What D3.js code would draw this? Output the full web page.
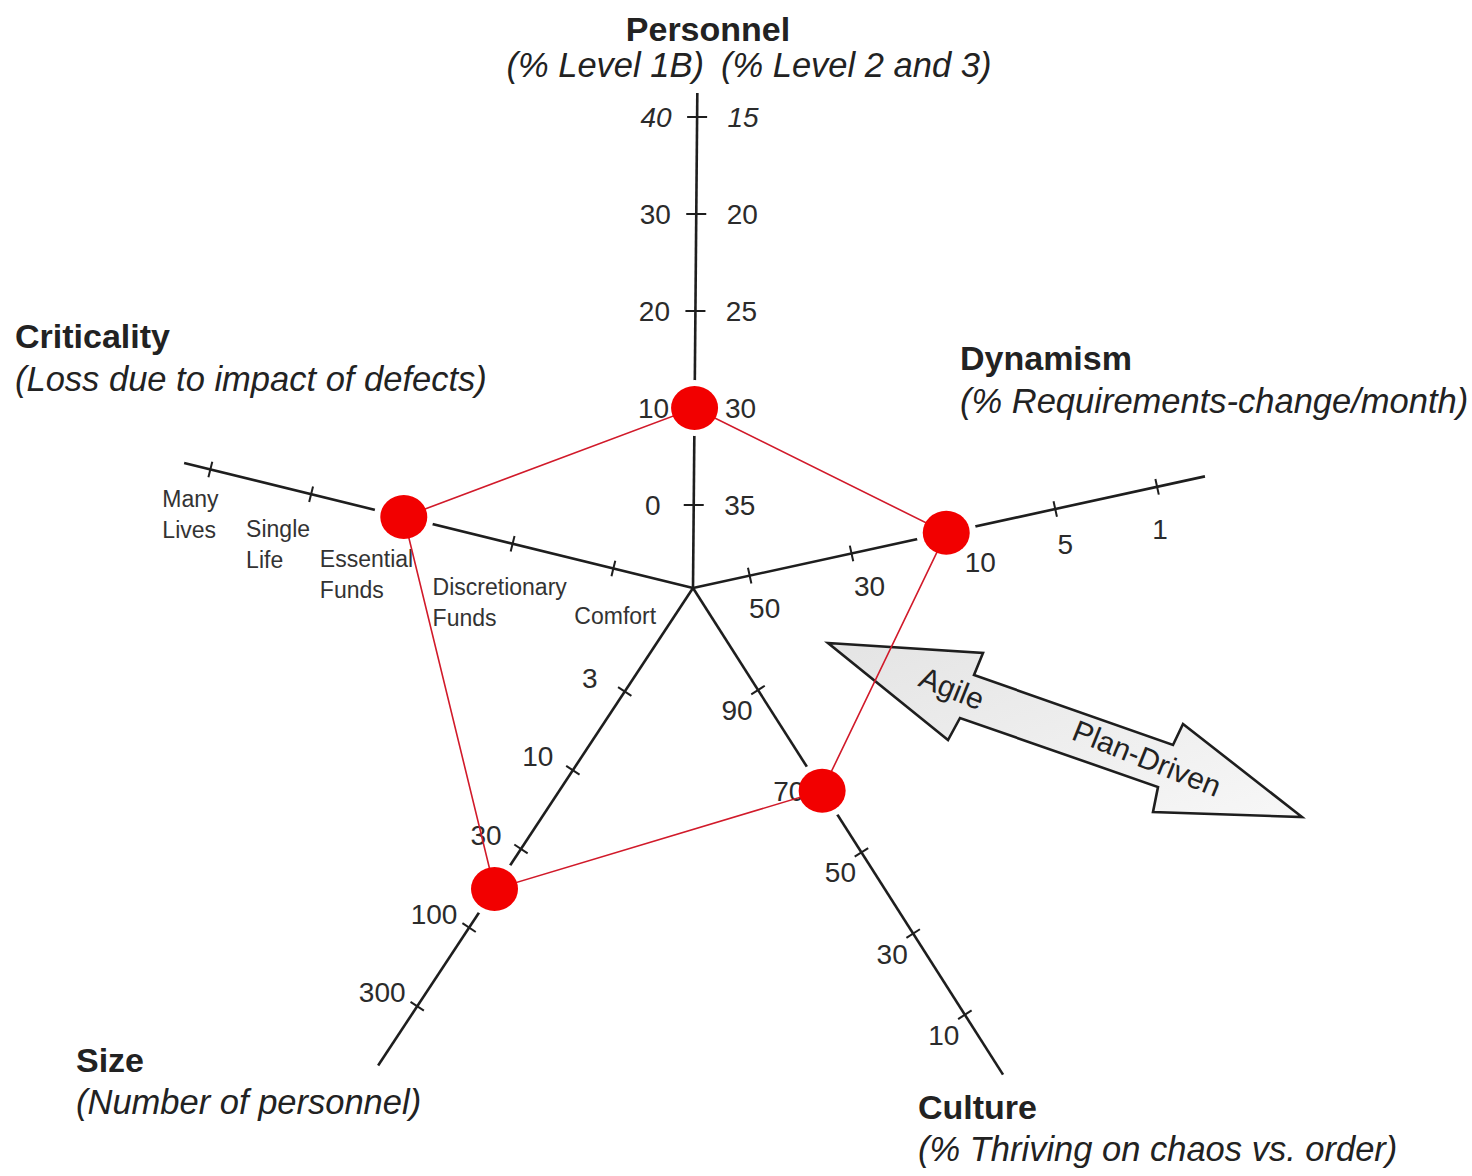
<!DOCTYPE html>
<html>
<head>
<meta charset="utf-8">
<script src="https://cdn.jsdelivr.net/npm/d3@7"></script>
<style>
  body { margin: 0; background: #fff; }
  svg { display: block; }
  text { font-family: "Liberation Sans", Arial, Helvetica, sans-serif; }
</style>
</head>
<body>
<div id="chart"></div>
<script>
// ---- data ----
const axisNames = ["Personnel", "Dynamism", "Culture", "Size", "Criticality"];
const axisSubtitles = ["", "(% Requirements-change/month)", "(% Thriving on chaos vs. order)",
                       "(Number of personnel)", "(Loss due to impact of defects)"];
const personnelSubtitles = ["(% Level 1B)", "(% Level 2 and 3)"];
const personnelLevel1B = ["0", "10", "20", "30", "40"];
const personnelLevel23 = ["35", "30", "25", "20", "15"];
const dynamismTicks = ["50", "30", "10", "5", "1"];
const cultureTicks = ["90", "70", "50", "30", "10"];
const sizeTicks = ["3", "10", "30", "100", "300"];
const criticalityTicks = [["Comfort"], ["Discretionary", "Funds"], ["Essential", "Funds"],
                          ["Single", "Life"], ["Many", "Lives"]];
// where the project sits on each axis, in tick steps from the first tick
const projectProfile = [1.0, 1.93, 1.24, 2.51, 2.08];
const arrowLabels = ["Agile", "Plan-Driven"];

// ---- layout ----
const width = 1472, height = 1176;
const center = [693, 588];
const axisLayout = [
  { angle: -89.5, r: [83, 471], len: 495 },
  { angle: -12.3, r: [58, 475], len: 524 },
  { angle: 57.5,  r: [121, 506], len: 577 },
  { angle: 123.4, r: [124, 501], len: 572 },
  { angle: 193.8, r: [82, 497], len: 524 },
];
const titlePos = [
  { x: 708, y: 41, anchor: "middle" },
  { x: 960, y: 370, sub: 413 },
  { x: 918, y: 1119, sub: 1161 },
  { x: 76, y: 1072, sub: 1114 },
  { x: 15, y: 348, sub: 391 },
];
const titleFont = 34, subFont = 34.5;

const svg = d3.select("#chart").append("svg")
  .attr("width", width)
  .attr("height", height)
  .attr("viewBox", `0 0 ${width} ${height}`);

svg.append("rect").attr("width", width).attr("height", height).attr("fill", "#fff");

const rad = a => a * Math.PI / 180;
const scales = axisLayout.map(a => d3.scaleLinear().domain([0, 4]).range(a.r));
const point = (i, r) => {
  const a = rad(axisLayout[i].angle);
  return [center[0] + r * Math.cos(a), center[1] + r * Math.sin(a)];
};
const tickPoint = (i, v) => point(i, scales[i](v));

// ---- axes ----
const axisG = svg.append("g");
axisG.selectAll("line.axis")
  .data(axisLayout)
  .join("line")
  .attr("class", "axis")
  .attr("x1", center[0]).attr("y1", center[1])
  .attr("x2", (d, i) => point(i, d.len)[0])
  .attr("y2", (d, i) => point(i, d.len)[1])
  .attr("stroke", "#1e1e1e")
  .attr("stroke-width", 2.6);

// tick marks
const tickData = [];
axisLayout.forEach((a, i) => d3.range(5).forEach(k => tickData.push({ axis: i, k })));
axisG.selectAll("line.tick")
  .data(tickData)
  .join("line")
  .attr("class", "tick")
  .each(function (d) {
    const [x, y] = tickPoint(d.axis, d.k);
    const a = rad(axisLayout[d.axis].angle + 90);
    const h = d.axis === 0 ? 10 : 8;
    d3.select(this)
      .attr("x1", x - h * Math.cos(a)).attr("y1", y - h * Math.sin(a))
      .attr("x2", x + h * Math.cos(a)).attr("y2", y + h * Math.sin(a));
  })
  .attr("stroke", "#1e1e1e")
  .attr("stroke-width", 2);

// white halo round the profile points, breaking the axis lines
const profilePts = projectProfile.map((v, i) => tickPoint(i, v));
svg.append("g").selectAll("ellipse")
  .data(profilePts)
  .join("ellipse")
  .attr("cx", d => d[0]).attr("cy", d => d[1])
  .attr("rx", 30).attr("ry", 28)
  .attr("fill", "#fff");

// ---- tick labels ----
const labelG = svg.append("g").attr("fill", "#2b2b2b");
const numFont = 28;

// personnel, both scales
personnelLevel1B.forEach((t, k) => {
  const [x, y] = tickPoint(0, k);
  labelG.append("text").attr("x", x - 41).attr("y", y + 10)
    .attr("text-anchor", "middle").attr("font-size", numFont)
    .attr("font-style", k === 4 ? "italic" : "normal").text(t);
});
personnelLevel23.forEach((t, k) => {
  const [x, y] = tickPoint(0, k);
  labelG.append("text").attr("x", x + 46).attr("y", y + 10)
    .attr("text-anchor", "middle").attr("font-size", numFont)
    .attr("font-style", k === 4 ? "italic" : "normal").text(t);
});

const dynDx = [15, 18, 27, 10, 3], dynDy = [42, 43, 41, 45, 52];
dynamismTicks.forEach((t, k) => {
  const [x, y] = tickPoint(1, k);
  labelG.append("text").attr("x", x + dynDx[k]).attr("y", y + dynDy[k])
    .attr("text-anchor", "middle").attr("font-size", numFont).text(t);
});

cultureTicks.forEach((t, k) => {
  const [x, y] = tickPoint(2, k);
  labelG.append("text").attr("x", x - 21).attr("y", y + 30)
    .attr("text-anchor", "middle").attr("font-size", numFont).text(t);
});

sizeTicks.forEach((t, k) => {
  const [x, y] = tickPoint(3, k);
  labelG.append("text").attr("x", x - 35).attr("y", y - 4)
    .attr("text-anchor", "middle").attr("font-size", numFont).text(t);
});

const critDx = [-39, -80, -92, -65, -48], critDy = [56, 51, 48, 43, 38];
criticalityTicks.forEach((lines, k) => {
  const [x, y] = tickPoint(4, k);
  const t = labelG.append("text").attr("x", x + critDx[k]).attr("y", y + critDy[k])
    .attr("font-size", 23).attr("fill", "#333");
  lines.forEach((l, j) => t.append("tspan").attr("x", x + critDx[k]).attr("dy", j ? 31 : 0).text(l));
});

// ---- axis titles ----
const titleG = svg.append("g").attr("fill", "#222");
axisNames.forEach((n, i) => {
  const p = titlePos[i];
  titleG.append("text").attr("x", p.x).attr("y", p.y)
    .attr("text-anchor", p.anchor || "start")
    .attr("font-size", titleFont).attr("font-weight", "bold").text(n);
  if (axisSubtitles[i]) {
    titleG.append("text").attr("x", p.x).attr("y", p.sub)
      .attr("font-size", subFont).attr("font-style", "italic").text(axisSubtitles[i]);
  }
});
titleG.append("text").attr("x", 704).attr("y", 77).attr("text-anchor", "end")
  .attr("font-size", subFont).attr("font-style", "italic").text(personnelSubtitles[0]);
titleG.append("text").attr("x", 721).attr("y", 77)
  .attr("font-size", subFont).attr("font-style", "italic").text(personnelSubtitles[1]);

// ---- agile / plan-driven arrow ----
const arrowShape = [[828, 643], [983, 653], [974, 675], [1173, 745], [1183, 724], [1302, 817],
                    [1153, 812], [1158, 787], [960, 718], [948, 740]];
const grad = svg.append("defs").append("linearGradient").attr("id", "arrowFill")
  .attr("x1", "0").attr("y1", "0").attr("x2", "1").attr("y2", "1");
grad.append("stop").attr("offset", "0%").attr("stop-color", "#e4e4e4");
grad.append("stop").attr("offset", "100%").attr("stop-color", "#f7f7f7");
svg.append("path")
  .attr("d", d3.line()(arrowShape) + "Z")
  .attr("fill", "url(#arrowFill)")
  .attr("stroke", "#1e1e1e")
  .attr("stroke-width", 2.6)
  .attr("stroke-linejoin", "miter");
const arrowTextPos = [[948, 698], [1143, 768]];
arrowLabels.forEach((t, i) => {
  svg.append("text")
    .attr("transform", `translate(${arrowTextPos[i][0]},${arrowTextPos[i][1]}) rotate(22)`)
    .attr("text-anchor", "middle").attr("font-size", 30).attr("fill", "#222").text(t);
});

// ---- project profile ----
svg.append("path")
  .attr("d", d3.line()(profilePts) + "Z")
  .attr("fill", "none")
  .attr("stroke", "#d11a2a")
  .attr("stroke-width", 1.6);

svg.append("g").selectAll("ellipse")
  .data(profilePts)
  .join("ellipse")
  .attr("cx", d => d[0]).attr("cy", d => d[1])
  .attr("rx", 23.5).attr("ry", 22)
  .attr("fill", "#f20000");
</script>
</body>
</html>
